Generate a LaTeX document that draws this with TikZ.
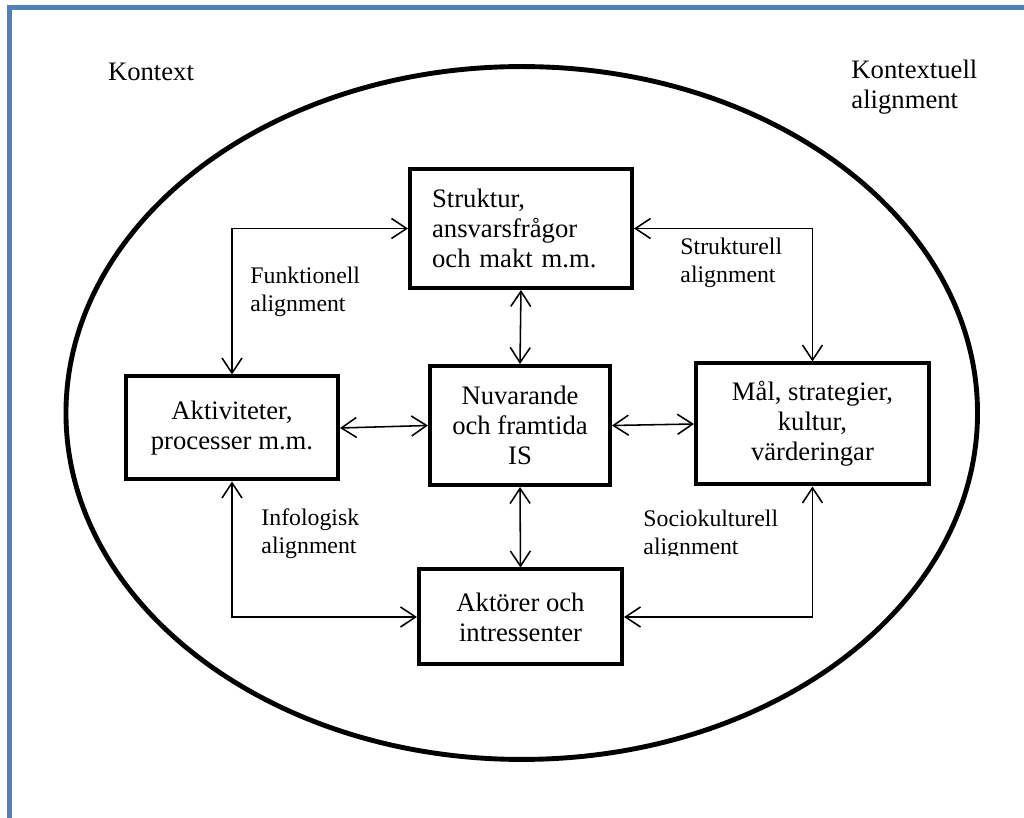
\documentclass[tikz,border=0pt]{standalone}
\usepackage{fontspec}
\setmainfont{Liberation Serif}
\usetikzlibrary{arrows.meta}
\definecolor{frameblue}{RGB}{79,129,189}

\begin{document}
\begin{tikzpicture}[x=0.45pt, y=-0.45pt,
    every node/.style={font=\fontsize{12}{13.5}\selectfont},
    box/.style={draw, line width=1.8pt, align=center, inner sep=0pt},
    lbl/.style={anchor=west, align=left, inner sep=0pt, font=\fontsize{10.7}{12.6}\selectfont},
    link/.style={{Straight Barb[length=6.8pt,width=9pt]}-{Straight Barb[length=6.8pt,width=9pt]}, line width=0.7pt}]
    \useasboundingbox (0,0) rectangle (1024,818);

    % Page frame
    \draw[frameblue, line width=2.3pt] (9.5,818) -- (9.5,7.5) -- (1024,7.5);

    % Context ellipse
    \draw[line width=2.2pt] (521.75,413) ellipse [x radius=205.1pt, y radius=155.9pt];
    \node (kontext) at (151,72) {Kontext};
    \node[anchor=west, align=left, inner sep=0pt] (kontextuell) at (851,87) {Kontextuell\\alignment};

    % Boxes
    \node[box, align=left, text width=80pt, inner xsep=9.95pt, minimum height=53.55pt] (struk) at (521,228.5) {Struktur,\\ansvarsfrågor\\och makt m.m.};
    \node[box, minimum width=81pt, minimum height=53.55pt] (nuv) at (520,425.5) {Nuvarande\\och framtida\\IS};
    \node[box, minimum width=95.4pt, minimum height=46.35pt] (akt) at (232,428) {Aktiviteter,\\processer m.m.};
    \node[box, minimum width=104.85pt, minimum height=54.45pt] (mal) at (812.5,424) {Mål, strategier,\\kultur,\\värderingar};
    \node[box, minimum width=91.35pt, minimum height=42.75pt] (aktor) at (520.5,617) {Aktörer och\\intressenter};

    % Alignment links
    \draw[link] (akt.north) |- (struk.west);
    \draw[link] (struk.east) -| (mal.north);
    \draw[link] (akt.south) |- (aktor.west);
    \draw[link] (mal.south) |- (aktor.east);
    \draw[link] (struk.south) -- (nuv.north);
    \draw[link] (nuv.south) -- (aktor.north);
    \draw[link] (akt.east) -- (nuv.west);
    \draw[link] (nuv.east) -- (mal.west);

    % Link labels
    \node[lbl] (funk) at (250,291.5) {Funktionell\\alignment};
    \node[lbl] (strukl) at (680,262.5) {Strukturell\\alignment};
    \node[lbl] (info) at (261,533.5) {Infologisk\\alignment};
    \begin{scope}
        \clip (600,490) rectangle (800,556);
        \node[lbl] (socio) at (643,535) {Sociokulturell\\alignment};
    \end{scope}
\end{tikzpicture}
\end{document}
